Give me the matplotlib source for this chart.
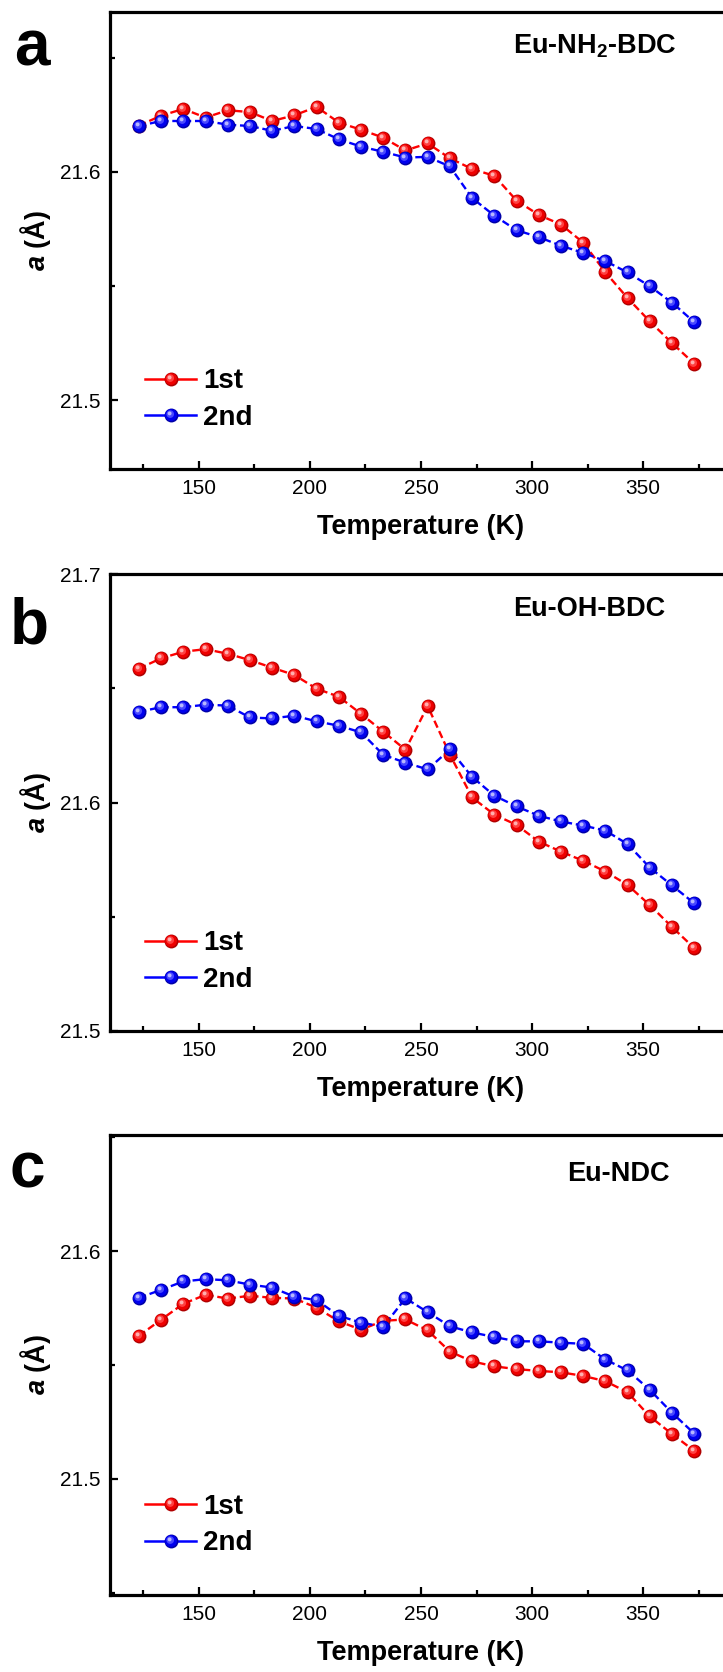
import numpy as np
import matplotlib
matplotlib.use("Agg")
import matplotlib.pyplot as plt
from matplotlib.path import Path
from matplotlib.lines import Line2D
from matplotlib.legend_handler import HandlerTuple
from matplotlib.ticker import MultipleLocator, FormatStrFormatter

plt.rcParams['font.family'] = ['Liberation Sans', 'DejaVu Sans']
plt.rcParams['mathtext.fontset'] = 'custom'
plt.rcParams['mathtext.rm'] = 'Liberation Sans:bold'
plt.rcParams['mathtext.bf'] = 'Liberation Sans:bold'
plt.rcParams['mathtext.it'] = 'Liberation Sans:bold:italic'

# ---------------- data ----------------
temperature = [123, 133, 143, 153, 163, 173, 183, 193, 203, 213, 223, 233, 243,
               253, 263, 273, 283, 293, 303, 313, 323, 333, 343, 353, 363, 373]

a_nh2_1st = [21.6203, 21.6246, 21.6276, 21.6238, 21.6270, 21.6262, 21.6223, 21.6248,
             21.6285, 21.6216, 21.6185, 21.6150, 21.6094, 21.6125, 21.6060, 21.6013,
             21.5983, 21.5875, 21.5812, 21.5770, 21.5691, 21.5561, 21.5448, 21.5346,
             21.5251, 21.5161]
a_nh2_2nd = [21.6201, 21.6223, 21.6223, 21.6223, 21.6207, 21.6201, 21.6180, 21.6201,
             21.6188, 21.6143, 21.6111, 21.6088, 21.6063, 21.6066, 21.6024, 21.5886,
             21.5809, 21.5745, 21.5715, 21.5677, 21.5646, 21.5610, 21.5560, 21.5500,
             21.5428, 21.5343]

a_oh_1st = [21.6586, 21.6631, 21.6660, 21.6671, 21.6651, 21.6623, 21.6590, 21.6558,
            21.6498, 21.6463, 21.6388, 21.6310, 21.6231, 21.6422, 21.6210, 21.6022,
            21.5947, 21.5902, 21.5829, 21.5785, 21.5745, 21.5698, 21.5639, 21.5551,
            21.5455, 21.5363]
a_oh_2nd = [21.6397, 21.6417, 21.6417, 21.6428, 21.6424, 21.6372, 21.6368, 21.6380,
            21.6355, 21.6336, 21.6307, 21.6209, 21.6174, 21.6145, 21.6232, 21.6112,
            21.6030, 21.5983, 21.5942, 21.5917, 21.5899, 21.5877, 21.5818, 21.5715,
            21.5637, 21.5559]

a_ndc_1st = [21.5628, 21.5699, 21.5769, 21.5808, 21.5792, 21.5804, 21.5795, 21.5792,
             21.5752, 21.5692, 21.5655, 21.5694, 21.5700, 21.5652, 21.5559, 21.5516,
             21.5494, 21.5482, 21.5474, 21.5468, 21.5452, 21.5429, 21.5380, 21.5274,
             21.5197, 21.5123]
a_ndc_2nd = [21.5795, 21.5830, 21.5867, 21.5877, 21.5872, 21.5853, 21.5840, 21.5800,
             21.5785, 21.5716, 21.5686, 21.5668, 21.5793, 21.5732, 21.5670, 21.5643,
             21.5623, 21.5604, 21.5604, 21.5598, 21.5593, 21.5524, 21.5476, 21.5391,
             21.5290, 21.5199]

panel_letters = ['a', 'b', 'c']
sample_names = [r'Eu-NH$_{\mathbf{2}}$-BDC', 'Eu-OH-BDC', 'Eu-NDC']
series_labels = ['1st', '2nd']
ylims = [(21.47, 21.67), (21.5, 21.7), (21.449, 21.651)]

# ---------------- style ----------------
W, H = 723, 1672
fig = plt.figure(figsize=(W / 100, H / 100), dpi=100)

def px_axes(left, top, right, bottom):
    return fig.add_axes([left / W, 1 - bottom / H, (right - left) / W, (bottom - top) / H])

axes_px = [(110, 12, 732, 469), (110, 574, 732, 1031), (110, 1135, 732, 1595)]
letter_pos = [(14, 65), (10, 643), (9, 1188)]
name_pos = [(0.648, 0.910), (0.648, 0.908), (0.735, 0.900)]


def ball_path(cx, cy, r):
    circ = Path.unit_circle()
    verts = circ.vertices * r + np.array([cx, cy])
    verts = np.vstack([verts, [[1.0, 1.0], [-1.0, -1.0]]])
    codes = np.concatenate([circ.codes, [Path.MOVETO, Path.MOVETO]])
    return Path(verts, codes)

layers = [ball_path(0, 0, 1.0), ball_path(-0.07, 0.07, 0.85),
          ball_path(-0.18, 0.2, 0.55), ball_path(-0.27, 0.3, 0.28)]
red_shades = ['#b00000', '#ee0000', '#ff4040', '#ffb0b0']
blue_shades = ['#0000a8', '#0000ee', '#4848ff', '#b8b8ff']
line_colors = ['#ff0000', '#0000ff']
MS = 10


def draw_series(ax, x, y, color, shades, zbase):
    ax.plot(x, y, color=color, lw=1.7, ls=(0, (3.2, 1.6)), zorder=2)
    hs = []
    for i, (p, c) in enumerate(zip(layers, shades)):
        h, = ax.plot(x, y, ls='none', marker=p, ms=MS, mfc=c, mec='none', mew=0,
                     zorder=zbase + 0.1 * i)
        hs.append(h)
    return hs


datasets = [(a_nh2_1st, a_nh2_2nd), (a_oh_1st, a_oh_2nd), (a_ndc_1st, a_ndc_2nd)]

for k in range(3):
    ax = px_axes(*axes_px[k])
    s1, s2 = datasets[k]
    h1 = draw_series(ax, temperature, s1, line_colors[0], red_shades, 3)
    h2 = draw_series(ax, temperature, s2, line_colors[1], blue_shades, 4)

    ax.set_xlim(110, 390)
    ax.set_ylim(*ylims[k])
    ax.xaxis.set_major_locator(MultipleLocator(50))
    ax.xaxis.set_minor_locator(MultipleLocator(25))
    ax.yaxis.set_major_locator(MultipleLocator(0.1))
    ax.yaxis.set_minor_locator(MultipleLocator(0.05))
    ax.yaxis.set_major_formatter(FormatStrFormatter('%.1f'))
    ax.tick_params(which='both', direction='in', top=False, right=False, width=1.6)
    ax.tick_params(which='major', length=6, labelsize=15, pad=7)
    ax.tick_params(which='minor', length=3.5)
    ax.spines['right'].set_visible(False)
    for s in ('left', 'bottom', 'top'):
        ax.spines[s].set_linewidth(2.3)

    ax.set_xlabel('Temperature (K)', fontsize=19.5, fontweight='bold')
    ax.set_ylabel(r'$\it{a}$ (Å)', fontsize=19.5, fontweight='bold')
    ax.xaxis.set_label_coords(0.5, -0.098)
    ax.yaxis.set_label_coords(-0.092, 0.5)

    ax.text(name_pos[k][0], name_pos[k][1], sample_names[k], transform=ax.transAxes,
            fontsize=19.5, fontweight='bold', ha='left', va='baseline')

    lr = Line2D([], [], color=line_colors[0], lw=1.8)
    lb = Line2D([], [], color=line_colors[1], lw=1.8)
    ax.legend([tuple([lr] + h1), tuple([lb] + h2)], series_labels,
              handler_map={tuple: HandlerTuple(ndivide=1)},
              loc='center left', bbox_to_anchor=(0.056, 0.152), frameon=False,
              prop={'weight': 'bold', 'size': 20}, handlelength=1.85,
              handletextpad=0.25, labelspacing=0.38, borderpad=0, borderaxespad=0,
              numpoints=1)

    fig.text(letter_pos[k][0] / W, 1 - letter_pos[k][1] / H, panel_letters[k],
             fontsize=46, fontweight='bold', ha='left', va='baseline')

fig.savefig('out.png', dpi=100)
